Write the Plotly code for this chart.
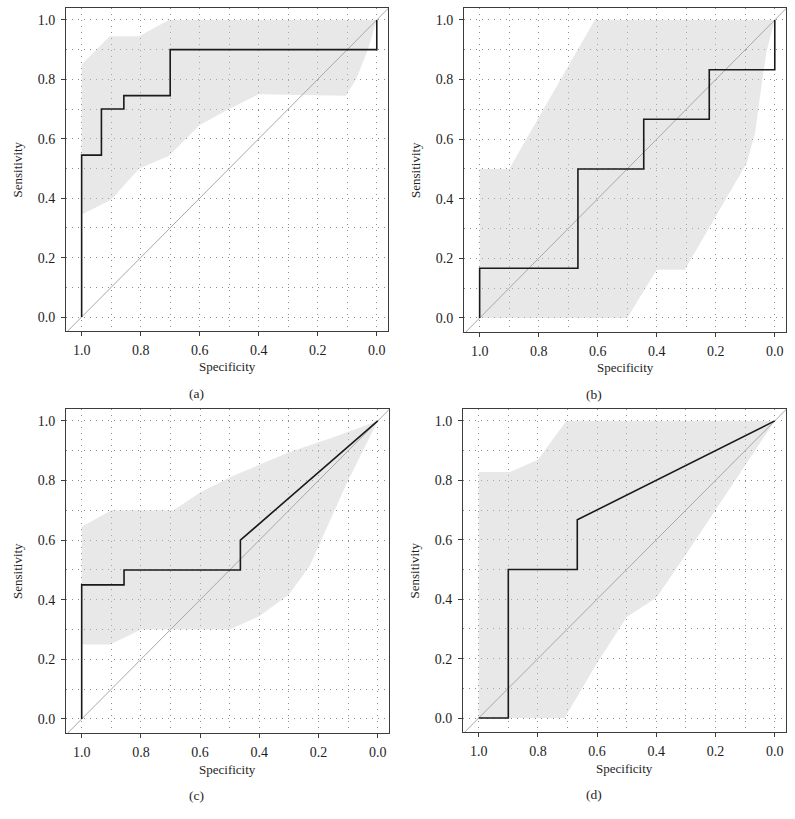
import plotly.graph_objects as go

# ---------------- data (specificity, sensitivity) ----------------
# Panel (a)
a_spec = [1.0, 1.0, 0.933, 0.933, 0.857, 0.857, 0.70, 0.70, 0.0, 0.0]
a_sens = [0.0, 0.545, 0.545, 0.70, 0.70, 0.745, 0.745, 0.90, 0.90, 1.0]
a_hi_spec = [1.0, 0.905, 0.805, 0.705, 0.0]
a_hi_sens = [0.85, 0.945, 0.945, 1.0, 1.0]
a_lo_spec = [1.0, 0.9, 0.805, 0.705, 0.6, 0.5, 0.4, 0.105, 0.07, 0.03, 0.0]
a_lo_sens = [0.345, 0.395, 0.50, 0.542, 0.646, 0.70, 0.75, 0.745, 0.80, 0.90, 1.0]

# Panel (b)
b_spec = [1.0, 1.0, 0.667, 0.667, 0.444, 0.444, 0.222, 0.222, 0.0, 0.0]
b_sens = [0.0, 0.167, 0.167, 0.5, 0.5, 0.667, 0.667, 0.833, 0.833, 1.0]
b_hi_spec = [1.0, 0.9, 0.61, 0.0]
b_hi_sens = [0.5, 0.5, 1.0, 1.0]
b_lo_spec = [1.0, 0.5, 0.4, 0.305, 0.095, 0.067, 0.044, 0.027, 0.0]
b_lo_sens = [0.0, 0.0, 0.162, 0.162, 0.52, 0.62, 0.787, 0.898, 1.0]

# Panel (c)
c_spec = [1.0, 1.0, 0.857, 0.857, 0.464, 0.464, 0.0]
c_sens = [0.0, 0.45, 0.45, 0.5, 0.5, 0.6, 1.0]
c_hi_spec = [1.0, 0.9, 0.69, 0.6, 0.49, 0.3, 0.15, 0.0]
c_hi_sens = [0.645, 0.70, 0.70, 0.76, 0.815, 0.895, 0.945, 1.0]
c_lo_spec = [1.0, 0.905, 0.83, 0.8, 0.5, 0.4, 0.3, 0.23, 0.105, 0.0]
c_lo_sens = [0.25, 0.25, 0.285, 0.30, 0.30, 0.345, 0.418, 0.513, 0.79, 1.0]

# Panel (d)
d_spec = [1.0, 0.9, 0.9, 0.667, 0.667, 0.0]
d_sens = [0.0, 0.0, 0.5, 0.5, 0.667, 1.0]
d_hi_spec = [1.0, 0.894, 0.80, 0.704, 0.0]
d_hi_sens = [0.828, 0.828, 0.869, 1.0, 1.0]
d_lo_spec = [1.0, 0.71, 0.60, 0.50, 0.40, 0.30, 0.0]
d_lo_sens = [0.0, 0.0, 0.185, 0.34, 0.405, 0.55, 1.0]

tick_vals = [0.0, 0.2, 0.4, 0.6, 0.8, 1.0]
diag_spec = [1.2, -0.2]          # chance line sens = 1 - spec
captions = ["(a)", "(b)", "(c)", "(d)"]

panels = [
    (a_spec, a_sens, a_hi_spec, a_hi_sens, a_lo_spec, a_lo_sens),
    (b_spec, b_sens, b_hi_spec, b_hi_sens, b_lo_spec, b_lo_sens),
    (c_spec, c_sens, c_hi_spec, c_hi_sens, c_lo_spec, c_lo_sens),
    (d_spec, d_sens, d_hi_spec, d_hi_sens, d_lo_spec, d_lo_sens),
]

# ---------------- layout geometry (pixels) ----------------
W, H = 795, 819
boxes = [(66, 388, 8, 331), (464, 786, 8, 332), (66, 389, 409, 733), (463, 786, 409, 732)]
SERIF = "Liberation Serif, Times New Roman, serif"
FRAME = "#3c3c3c"
GRID = "#8c8c8c"
TXT = "#1e1e1e"

fig = go.Figure()
annotations = []
layout = dict(
    width=W, height=H, margin=dict(l=0, r=0, t=0, b=0),
    paper_bgcolor="white", plot_bgcolor="white", showlegend=False,
    font=dict(family=SERIF, color=TXT),
)

for i, (spec, sens, hs, hy, ls, ly) in enumerate(panels):
    n = "" if i == 0 else str(i + 1)
    xa, ya = "x" + n, "y" + n
    x0, x1, y0, y1 = boxes[i]
    axis_common = dict(
        showline=True, mirror=True, linecolor=FRAME, linewidth=1,
        ticks="outside", ticklen=4, tickcolor=FRAME, tickwidth=1,
        tickvals=tick_vals, tickformat=".1f",
        tickfont=dict(family=SERIF, size=14, color=TXT),
        showgrid=True, gridcolor=GRID, gridwidth=1, griddash="1px,5px",
        minor=dict(dtick=0.1, tick0=0, showgrid=True, gridcolor=GRID,
                   gridwidth=1, griddash="1px,5px", ticks=""),
        zeroline=False,
    )
    layout["xaxis" + n] = dict(axis_common, domain=[x0 / W, x1 / W],
                               range=[1.053, -0.038], anchor=ya, ticklabelstandoff=2)
    layout["yaxis" + n] = dict(axis_common, domain=[1 - y1 / H, 1 - y0 / H],
                               range=[-0.047, 1.04], anchor=xa, ticklabelstandoff=3)

    # confidence band
    fig.add_trace(go.Scatter(
        x=hs + ls[::-1], y=hy + ly[::-1], xaxis=xa, yaxis=ya,
        mode="lines", fill="toself", fillcolor="rgba(200,200,200,0.42)",
        line=dict(width=0), hoverinfo="skip"))
    # chance diagonal
    fig.add_trace(go.Scatter(
        x=diag_spec, y=[1 - v for v in diag_spec], xaxis=xa, yaxis=ya,
        mode="lines", line=dict(color="#a8a8a8", width=1), hoverinfo="skip"))
    # ROC curve
    fig.add_trace(go.Scatter(
        x=spec, y=sens, xaxis=xa, yaxis=ya, mode="lines",
        line=dict(color="#1a1a1a", width=1.6)))

    cx = (x0 + x1) / 2
    cy = (y0 + y1) / 2
    common = dict(xref="paper", yref="paper", showarrow=False,
                  xanchor="center", yanchor="middle")
    annotations.append(dict(common, text="Specificity", x=cx / W, y=1 - (y1 + 36) / H,
                            font=dict(family=SERIF, size=13, color=TXT)))
    annotations.append(dict(common, text="Sensitivity", x=(x0 - 49) / W, y=1 - cy / H,
                            textangle=-90,
                            font=dict(family=SERIF, size=13, color=TXT)))
    annotations.append(dict(common, text=captions[i], x=(cx - 31) / W, y=1 - (y1 + 62) / H,
                            font=dict(family=SERIF, size=13.5, color=TXT)))

layout["annotations"] = annotations
fig.update_layout(**layout)
fig.write_html("out.html", config={"displayModeBar": False},
               post_script="document.body.style.margin='0';document.body.style.overflow='hidden';")
